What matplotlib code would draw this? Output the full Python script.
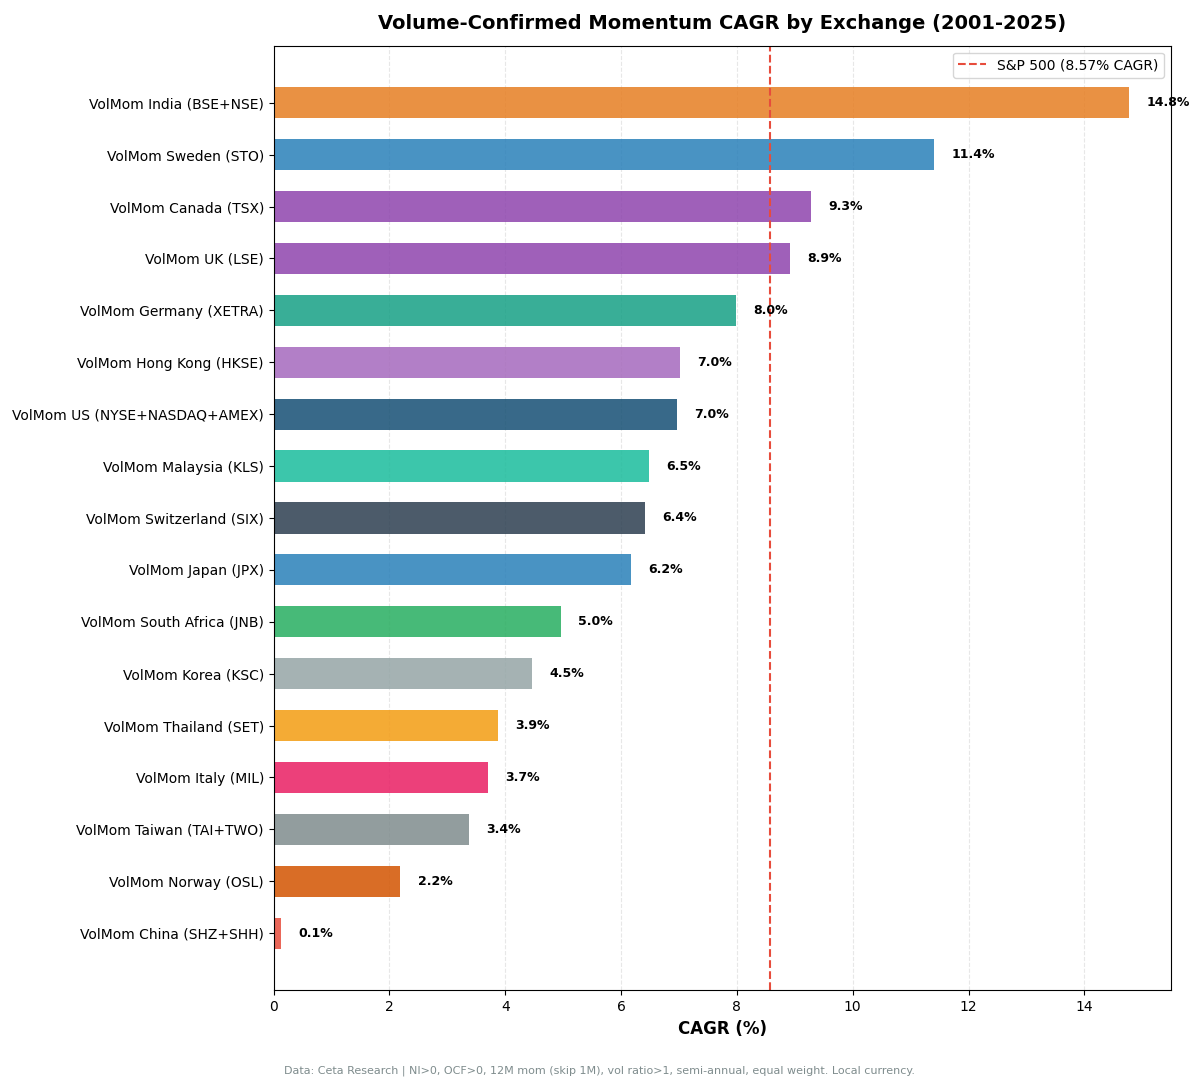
import matplotlib
matplotlib.use("Agg")
import matplotlib.pyplot as plt

labels = ["VolMom India (BSE+NSE)", "VolMom Sweden (STO)", "VolMom Canada (TSX)", "VolMom UK (LSE)",
          "VolMom Germany (XETRA)", "VolMom Hong Kong (HKSE)", "VolMom US (NYSE+NASDAQ+AMEX)",
          "VolMom Malaysia (KLS)", "VolMom Switzerland (SIX)", "VolMom Japan (JPX)",
          "VolMom South Africa (JNB)", "VolMom Korea (KSC)", "VolMom Thailand (SET)",
          "VolMom Italy (MIL)", "VolMom Taiwan (TAI+TWO)", "VolMom Norway (OSL)", "VolMom China (SHZ+SHH)"]
cagr = [14.77, 11.41, 9.28, 8.92, 7.98, 7.02, 6.96, 6.48, 6.41, 6.17, 4.96, 4.46, 3.87, 3.70, 3.37, 2.19, 0.12]
colors = ["#e67e22", "#2980b9", "#8e44ad", "#8e44ad", "#16a085", "#a569bd", "#154f74", "#1abc9c",
          "#2c3e50", "#2980b9", "#27ae60", "#95a5a6", "#f39c12", "#e91e63", "#7f8c8d", "#d35400", "#e74c3c"]
sp500 = 8.57

fig = plt.figure(figsize=(12, 10.87), dpi=100)
ax = fig.add_axes([0.228, 0.089, 0.748, 0.869])
y = list(range(len(labels)))[::-1]
ax.barh(y, cagr, height=0.6, color=colors, alpha=0.85)
for yi, v in zip(y, cagr):
    ax.text(v + 0.3, yi, f"{v:.1f}%", va="center", ha="left", fontsize=9, fontweight="bold")
ax.axvline(sp500, color="#e74c3c", linestyle="--", linewidth=1.5, label=f"S&P 500 ({sp500:.2f}% CAGR)")
ax.set_yticks(y)
ax.set_yticklabels(labels, fontsize=10)
ax.set_xlim(0, 15.5)
ax.set_ylim(-1.1, 17.1)
ax.set_xticks(range(0, 16, 2))
ax.tick_params(axis="x", labelsize=10)
ax.grid(axis="x", linestyle="--", alpha=0.3)
ax.set_axisbelow(True)
ax.set_xlabel("CAGR (%)", fontsize=12, fontweight="bold")
ax.set_title("Volume-Confirmed Momentum CAGR by Exchange (2001-2025)", fontsize=14, fontweight="bold", pad=12)
ax.legend(loc="upper right", fontsize=10)
fig.text(0.5, 0.012, "Data: Ceta Research | NI>0, OCF>0, 12M mom (skip 1M), vol ratio>1, semi-annual, equal weight. Local currency.",
         ha="center", fontsize=8, color="#7f8c8d")
fig.savefig("out.png", dpi=100)
